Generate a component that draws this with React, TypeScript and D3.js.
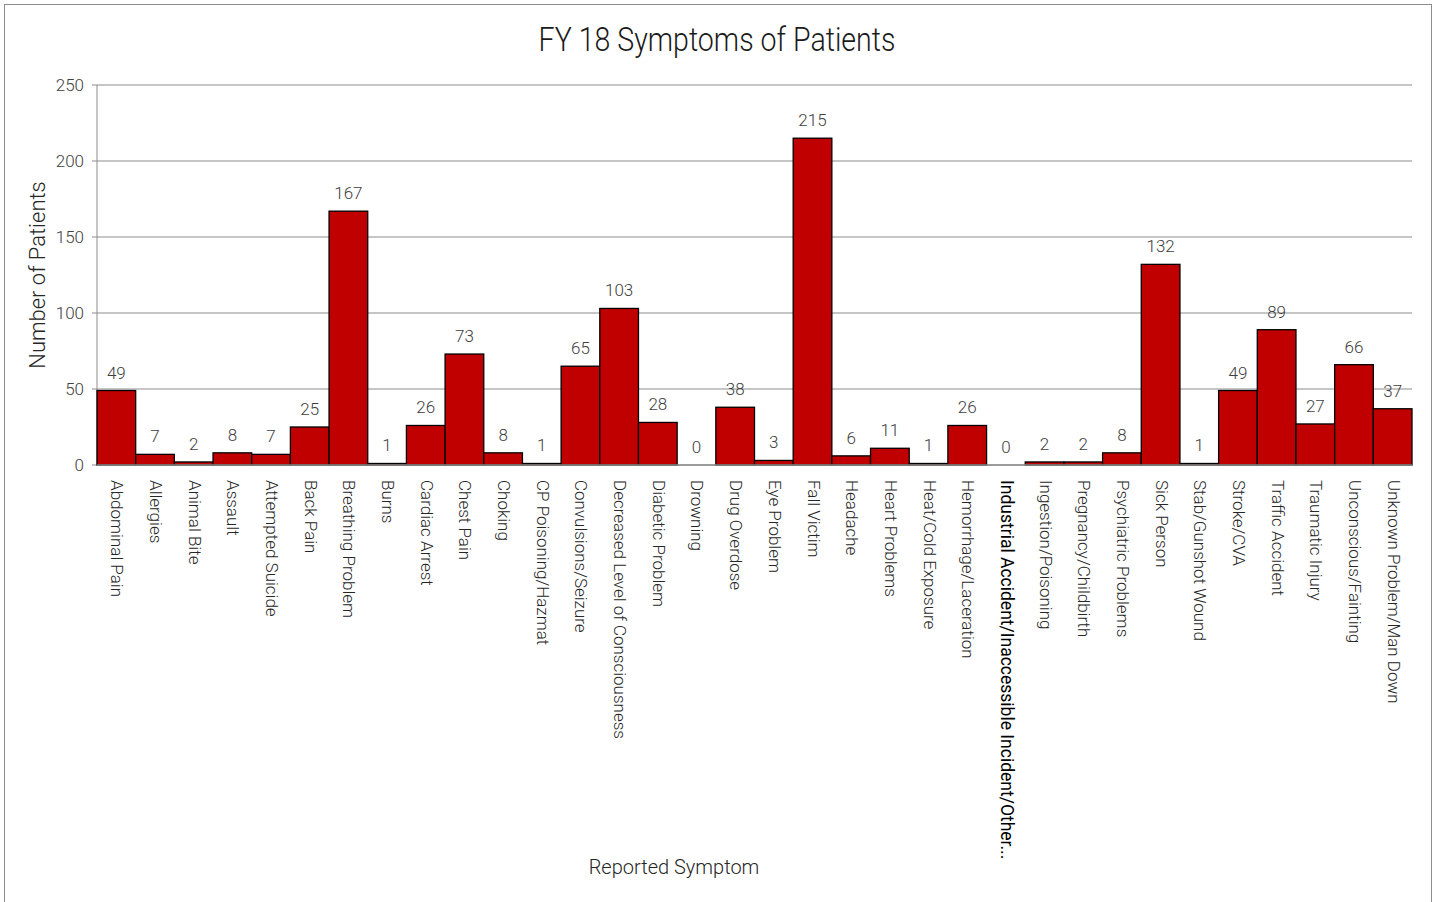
import React from "react";
import * as d3 from "d3";

const categories: string[] = [
  "Abdominal Pain", "Allergies", "Animal Bite", "Assault", "Attempted Suicide", "Back Pain",
  "Breathing Problem", "Burns", "Cardiac Arrest", "Chest Pain", "Choking", "CP Poisoning/Hazmat",
  "Convulsions/Seizure", "Decreased Level of Consciousness", "Diabetic Problem", "Drowning",
  "Drug Overdose", "Eye Problem", "Fall Victim", "Headache", "Heart Problems", "Heat/Cold Exposure",
  "Hemorrhage/Laceration", "Industrial Accident/Inaccessible Incident/Other...", "Ingestion/Poisoning",
  "Pregnancy/Childbirth", "Psychiatric Problems", "Sick Person", "Stab/Gunshot Wound", "Stroke/CVA",
  "Traffic Accident", "Traumatic Injury", "Unconscious/Fainting", "Unknown Problem/Man Down",
];
const values: number[] = [
  49, 7, 2, 8, 7, 25, 167, 1, 26, 73, 8, 1, 65, 103, 28, 0, 38, 3, 215, 6, 11, 1, 26, 0, 2, 2, 8,
  132, 1, 49, 89, 27, 66, 37,
];
const yTicks: number[] = [0, 50, 100, 150, 200, 250];
const boldCategory = "Industrial Accident/Inaccessible Incident/Other...";

const W = 1437;
const H = 902;
const left = 97;
const right = 1412;
const top = 85;
const bottom = 465;
const font = "Roboto, 'Open Sans', sans-serif";

export default function App() {
  const x = d3.scaleBand<string>().domain(categories).range([left, right]).padding(0);
  const y = d3.scaleLinear().domain([0, 250]).range([bottom, top]);
  return (
    <svg width={W} height={H} style={{ position: "absolute", left: 0, top: 0, background: "#fff" }}>
      <rect x={4.5} y={4.5} width={1427} height={H} fill="#fff" stroke="#8c8c8c" strokeWidth={1} />
      <text x={717} y={51} textAnchor="middle" fontFamily={font} fontWeight={300} fontSize={34}
        fill="#1a1a1a" transform="translate(717,0) scale(0.84,1) translate(-717,0)">
        FY 18 Symptoms of Patients
      </text>
      {yTicks.map((t) => (
        <g key={t}>
          <line x1={left} x2={right} y1={y(t)} y2={y(t)} stroke="#8c8c8c" strokeWidth={1} />
          <line x1={left - 5} x2={left} y1={y(t)} y2={y(t)} stroke="#8c8c8c" strokeWidth={1} />
          <text x={84} y={y(t) + 6} textAnchor="end" fontFamily={font} fontWeight={300} fontSize={17} fill="#404040">
            {t}
          </text>
        </g>
      ))}
      <line x1={left} x2={left} y1={top} y2={bottom} stroke="#8c8c8c" strokeWidth={1} />
      {categories.map((c, i) => {
        const v = values[i];
        const bx = x(c)!;
        const bw = x.bandwidth();
        return (
          <g key={c}>
            <rect x={bx} y={y(v)} width={bw} height={bottom - y(v)} fill="#c00000" stroke="#000" strokeWidth={1.3} />
            <text x={bx + bw / 2} y={y(v) - 12} textAnchor="middle" fontFamily={font} fontWeight={300}
              fontSize={17} fill="#404040">
              {v}
            </text>
          </g>
        );
      })}
      <line x1={left} x2={right} y1={bottom} y2={bottom} stroke="#8c8c8c" strokeWidth={1.5} />
      {categories.map((c) => {
        const cx = x(c)! + x.bandwidth() / 2 - 5;
        const bold = c === boldCategory;
        return (
          <text key={c} transform={`translate(${cx},480) rotate(90)`} fontFamily={font}
            fontWeight={bold ? 400 : 300} fontSize={bold ? 17.5 : 17} fill={bold ? "#000" : "#262626"}>
            {c}
          </text>
        );
      })}
      <text transform="translate(45,275) rotate(-90)" textAnchor="middle" fontFamily={font} fontWeight={300}
        fontSize={22} fill="#262626">
        Number of Patients
      </text>
      <text x={674} y={874} textAnchor="middle" fontFamily={font} fontWeight={300} fontSize={20} fill="#262626">
        Reported Symptom
      </text>
    </svg>
  );
}
